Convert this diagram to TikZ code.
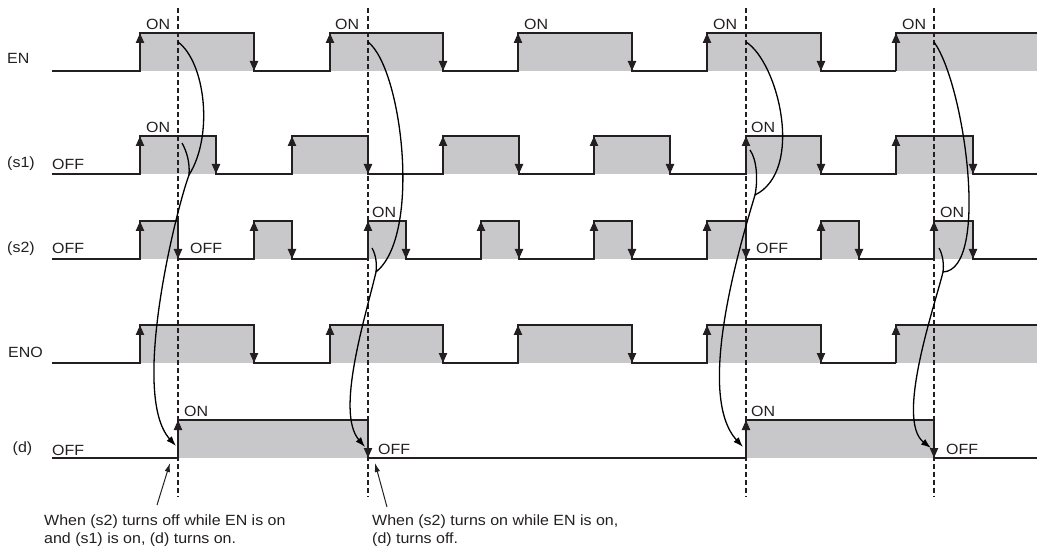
\documentclass[tikz,border=0pt]{standalone}
\usepackage{fontspec}
\setmainfont{Liberation Sans}[FakeStretch=1.08]
\usetikzlibrary{arrows.meta}
\definecolor{sigc}{RGB}{35,31,32}
\definecolor{onc}{RGB}{200,200,202}
\newcommand\drawsig[4]{% #1 high y, #2 low y, #3 rise/fall pairs, #4 end x (low)
  \foreach \ru/\fd in {#3} {\fill[onfill] (\ru,#1) rectangle (\fd,#2);}
  \draw[sig] (52,#2) \foreach \ru/\fd in {#3} { -- (\ru,#2) -- (\ru,#1) -- (\fd,#1) -- (\fd,#2)} -- (#4,#2);
  \foreach \ru/\fd in {#3} {\draw[edgetip] (\ru,#2) -- (\ru,#1); \draw[edgetip] (\fd,#1) -- (\fd,#2);}
}
\newcommand\drawtail[3]{% #1 high y, #2 low y, #3 rise x, stays on to the right edge
  \fill[onfill] (#3,#1) rectangle (1037,#2);
  \draw[sig] (#3,#2) -- (#3,#1) -- (1037,#1);
  \draw[edgetip] (#3,#2) -- (#3,#1);
}
\begin{document}
\begin{tikzpicture}[x=1pt,y=-1pt,
  sig/.style={draw=sigc,line width=2.2pt,line join=miter},
  onfill/.style={fill=onc},
  edgetip/.style={draw=sigc,line width=2.2pt,-{Triangle[length=10pt,width=8pt]}},
  guide/.style={draw=sigc,line width=1.2pt,dash pattern=on 5pt off 3pt},
  flow/.style={draw=black,line width=1.3pt,-{Latex[length=10pt,width=7pt]}},
  branch/.style={draw=black,line width=1.3pt},
  pointer/.style={draw=sigc,line width=1pt,-{Latex[length=9pt,width=5.5pt]}},
  lbl/.style={font=\fontsize{14.8}{18}\selectfont,inner sep=0pt,anchor=base west,text=sigc}
]
\useasboundingbox (0,0) rectangle (1037,548);

% ---- signals ----
% EN
\drawsig{33}{71}{140/254,330/443,518/632,707/821}{896}
\drawtail{33}{71}{896}
% (s1)
\drawsig{136}{174}{140/216,292/368,443/519,594/670,746/821,896/973}{1037}
% (s2)
\drawsig{221}{259}{140/178,254/292,368/406,481/519,594/632,707/746,821/859,934/973}{1037}
% ENO
\drawsig{325}{363}{140/254,330/443,518/632,707/821}{896}
\drawtail{325}{363}{896}
% (d)
\drawsig{420}{458}{178/368,746/934}{1037}

% ---- dashed guides ----
\foreach \gx in {178,368,746,934} {\draw[guide] (\gx,8) -- (\gx,497);}

% ---- row labels ----
\node[lbl] (lEN) at (7,63.5) {EN};
\node[lbl] (ls1) at (7,167.5) {(s1)};
\node[lbl] (ls2) at (7,253) {(s2)};
\node[lbl] (lENO) at (8,357) {ENO};
\node[lbl] (ld) at (12.5,452) {(d)};
\node[lbl] (offs1) at (52,170) {OFF};
\node[lbl] (offs2) at (52,254) {OFF};
\node[lbl] (offd) at (52,455) {OFF};

% ---- state labels ----
\node[lbl] (onEN1) at (146,30) {ON};
\node[lbl] (onEN2) at (335,30) {ON};
\node[lbl] (onEN3) at (524,30) {ON};
\node[lbl] (onEN4) at (713,30) {ON};
\node[lbl] (onEN5) at (902,30) {ON};
\node[lbl] (ons1a) at (146,133) {ON};
\node[lbl] (ons1b) at (751,133) {ON};
\node[lbl] (ons2a) at (372,218) {ON};
\node[lbl] (ons2b) at (940,218) {ON};
\node[lbl] (offs2a) at (190,254) {OFF};
\node[lbl] (offs2b) at (756,254) {OFF};
\node[lbl] (onda) at (184,416.5) {ON};
\node[lbl] (ondb) at (751,416.5) {ON};
\node[lbl] (offda) at (378,454) {OFF};
\node[lbl] (offdb) at (946,454) {OFF};

% ---- cause/effect curves ----
\coordinate (c1s) at (178,42);  \coordinate (c1b) at (182,143);
\coordinate (c1m) at (189,175); \coordinate (c1e) at (176,446);
\draw[flow] (c1s) .. controls (205,62) and (214,135) .. (c1m) .. controls (176,210) and (130,395) .. (c1e);
\draw[branch] (c1b) .. controls (187,152) and (190,163) .. (c1m);

\coordinate (c2s) at (368,42);  \coordinate (c2b) at (372,248);
\coordinate (c2m) at (376,272); \coordinate (c2e) at (365,447);
\draw[flow] (c2s) .. controls (402,68) and (422,235) .. (c2m) .. controls (366,315) and (335,412) .. (c2e);
\draw[branch] (c2b) .. controls (376,255) and (377,264) .. (c2m);

\coordinate (c3s) at (746,42);  \coordinate (c3b) at (750,150);
\coordinate (c3m) at (755,195); \coordinate (c3e) at (743,447);
\draw[flow] (c3s) .. controls (778,62) and (805,170) .. (c3m) .. controls (740,245) and (695,395) .. (c3e);
\draw[branch] (c3b) .. controls (757,160) and (758,180) .. (c3m);

\coordinate (c4s) at (934,42);  \coordinate (c4b) at (939,248);
\coordinate (c4m) at (943,272); \coordinate (c4e) at (931,448);
\draw[flow] (c4s) .. controls (965,85) and (990,270) .. (c4m) .. controls (935,305) and (895,420) .. (c4e);
\draw[branch] (c4b) .. controls (943,255) and (944,265) .. (c4m);

% ---- annotations ----
\node[lbl] (n1a) at (44,525) {When (s2) turns off while EN is on};
\node[lbl] (n1b) at (44,543) {and (s1) is on, (d) turns on.};
\node[lbl] (n2a) at (372,525) {When (s2) turns on while EN is on,};
\node[lbl] (n2b) at (372,543) {(d) turns off.};
\coordinate (p1t) at (157,505); \coordinate (p1h) at (170,463);
\coordinate (p2t) at (387,507); \coordinate (p2h) at (375,463);
\draw[pointer] (p1t) -- (p1h);
\draw[pointer] (p2t) -- (p2h);
\end{tikzpicture}
\end{document}
